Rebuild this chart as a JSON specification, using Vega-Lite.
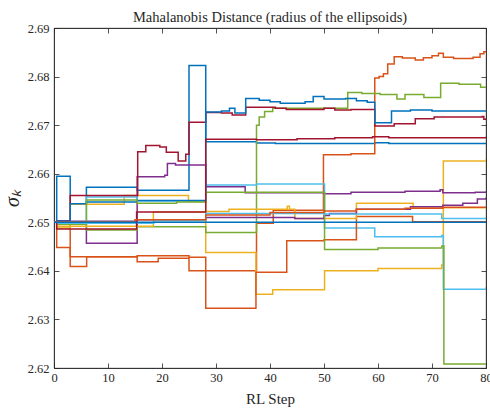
{
  "$schema": "https://vega.github.io/schema/vega-lite/v6.json",
  "width": 432,
  "height": 340,
  "autosize": {"type": "none"},
  "padding": {"left": 54, "top": 28, "right": 4, "bottom": 42},
  "title": {"text": "Mahalanobis Distance (radius of the ellipsoids)", "font": "Liberation Serif", "fontSize": 14.5, "fontWeight": "normal", "color": "#262626", "offset": -3},
  "datasets": {
    "d": [
      {"s":"B1","x":0,"y":2.65},{"s":"B1","x":0.5,"y":2.6595},{"s":"B1","x":3,"y":2.6538},{"s":"B1","x":6,"y":2.6572},{"s":"B1","x":15.4,"y":2.6566},{"s":"B1","x":25,"y":2.6823},{"s":"B1","x":28.1,"y":2.6666},{"s":"B1","x":37.5,"y":2.6663},{"s":"B1","x":41,"y":2.6662},{"s":"B1","x":59.4,"y":2.6664},{"s":"B1","x":62,"y":2.6662},{"s":"B1","x":80,"y":2.6662},
      {"s":"O1","x":0,"y":2.65},{"s":"O1","x":3,"y":2.6409},{"s":"O1","x":6.05,"y":2.6429},{"s":"O1","x":15.4,"y":2.6419},{"s":"O1","x":19.3,"y":2.6426},{"s":"O1","x":25,"y":2.64},{"s":"O1","x":37.5,"y":2.6498},{"s":"O1","x":40.6,"y":2.6525},{"s":"O1","x":49.9,"y":2.6639},{"s":"O1","x":55,"y":2.6641},{"s":"O1","x":59.4,"y":2.6797},{"s":"O1","x":60.2,"y":2.68},{"s":"O1","x":61,"y":2.6806},{"s":"O1","x":61.8,"y":2.6826},{"s":"O1","x":63,"y":2.6841},{"s":"O1","x":64.5,"y":2.6838},{"s":"O1","x":66.9,"y":2.6834},{"s":"O1","x":68.4,"y":2.6839},{"s":"O1","x":70,"y":2.6843},{"s":"O1","x":71.2,"y":2.6848},{"s":"O1","x":72.1,"y":2.684},{"s":"O1","x":74,"y":2.6837},{"s":"O1","x":77.6,"y":2.684},{"s":"O1","x":78.9,"y":2.6847},{"s":"O1","x":79.6,"y":2.6851},{"s":"O1","x":80,"y":2.6851},
      {"s":"Y1","x":0,"y":2.65},{"s":"Y1","x":0.5,"y":2.6488},{"s":"Y1","x":3,"y":2.6537},{"s":"Y1","x":13,"y":2.6555},{"s":"Y1","x":24.9,"y":2.6543},{"s":"Y1","x":28.1,"y":2.6438},{"s":"Y1","x":37.4,"y":2.6352},{"s":"Y1","x":40.5,"y":2.6361},{"s":"Y1","x":50.1,"y":2.64},{"s":"Y1","x":60,"y":2.6405},{"s":"Y1","x":71.8,"y":2.6412},{"s":"Y1","x":72.1,"y":2.6626},{"s":"Y1","x":80,"y":2.663},
      {"s":"P1","x":0,"y":2.65},{"s":"P1","x":0.5,"y":2.6497},{"s":"P1","x":6,"y":2.6457},{"s":"P1","x":15.4,"y":2.6594},{"s":"P1","x":20.5,"y":2.6597},{"s":"P1","x":21,"y":2.6621},{"s":"P1","x":22.5,"y":2.6618},{"s":"P1","x":28.1,"y":2.6573},{"s":"P1","x":35.4,"y":2.6561},{"s":"P1","x":50,"y":2.6559},{"s":"P1","x":55,"y":2.6562},{"s":"P1","x":65,"y":2.6564},{"s":"P1","x":71.5,"y":2.6567},{"s":"P1","x":72,"y":2.6561},{"s":"P1","x":78,"y":2.6562},{"s":"P1","x":80,"y":2.6564},
      {"s":"G1","x":0,"y":2.65},{"s":"G1","x":0.5,"y":2.6496},{"s":"G1","x":6,"y":2.6484},{"s":"G1","x":15.4,"y":2.6491},{"s":"G1","x":28.1,"y":2.6479},{"s":"G1","x":37.5,"y":2.67},{"s":"G1","x":38,"y":2.6717},{"s":"G1","x":39,"y":2.6728},{"s":"G1","x":40.5,"y":2.6735},{"s":"G1","x":54.4,"y":2.6767},{"s":"G1","x":57,"y":2.6765},{"s":"G1","x":60.4,"y":2.6763},{"s":"G1","x":63.5,"y":2.6754},{"s":"G1","x":65,"y":2.6763},{"s":"G1","x":68.5,"y":2.6757},{"s":"G1","x":71.6,"y":2.6786},{"s":"G1","x":75,"y":2.6784},{"s":"G1","x":79,"y":2.6778},{"s":"G1","x":80,"y":2.6777},
      {"s":"LB1","x":0,"y":2.65},{"s":"LB1","x":0.5,"y":2.6499},{"s":"LB1","x":6,"y":2.6552},{"s":"LB1","x":15.4,"y":2.6544},{"s":"LB1","x":28.1,"y":2.6577},{"s":"LB1","x":37.5,"y":2.6579},{"s":"LB1","x":50.1,"y":2.6488},{"s":"LB1","x":59.4,"y":2.647},{"s":"LB1","x":71.8,"y":2.6473},{"s":"LB1","x":72.1,"y":2.6362},{"s":"LB1","x":80,"y":2.6366},
      {"s":"R1","x":0,"y":2.65},{"s":"R1","x":0.5,"y":2.6502},{"s":"R1","x":3,"y":2.6555},{"s":"R1","x":15.5,"y":2.6645},{"s":"R1","x":17,"y":2.6658},{"s":"R1","x":19.6,"y":2.6655},{"s":"R1","x":20.8,"y":2.6644},{"s":"R1","x":23,"y":2.6626},{"s":"R1","x":24.4,"y":2.664},{"s":"R1","x":25,"y":2.6706},{"s":"R1","x":28.1,"y":2.6726},{"s":"R1","x":31,"y":2.6725},{"s":"R1","x":33,"y":2.6721},{"s":"R1","x":35.5,"y":2.6737},{"s":"R1","x":41,"y":2.6735},{"s":"R1","x":43,"y":2.6732},{"s":"R1","x":50,"y":2.6735},{"s":"R1","x":52,"y":2.6731},{"s":"R1","x":55,"y":2.6732},{"s":"R1","x":59.4,"y":2.6698},{"s":"R1","x":63,"y":2.6703},{"s":"R1","x":66.9,"y":2.6713},{"s":"R1","x":70.4,"y":2.6717},{"s":"R1","x":79.3,"y":2.6718},{"s":"R1","x":79.6,"y":2.6712},{"s":"R1","x":80,"y":2.6714},
      {"s":"B2","x":0,"y":2.65},{"s":"B2","x":0.5,"y":2.6503},{"s":"B2","x":3,"y":2.6538},{"s":"B2","x":6,"y":2.6542},{"s":"B2","x":15.4,"y":2.6545},{"s":"B2","x":28.1,"y":2.6727},{"s":"B2","x":31,"y":2.6729},{"s":"B2","x":32.5,"y":2.6735},{"s":"B2","x":33.5,"y":2.6725},{"s":"B2","x":35.5,"y":2.6755},{"s":"B2","x":38,"y":2.6751},{"s":"B2","x":40,"y":2.6748},{"s":"B2","x":41.9,"y":2.6745},{"s":"B2","x":46.5,"y":2.6748},{"s":"B2","x":48,"y":2.6759},{"s":"B2","x":50,"y":2.6754},{"s":"B2","x":54,"y":2.6755},{"s":"B2","x":56,"y":2.675},{"s":"B2","x":58,"y":2.6747},{"s":"B2","x":59.4,"y":2.6705},{"s":"B2","x":62.5,"y":2.6729},{"s":"B2","x":66,"y":2.6731},{"s":"B2","x":70,"y":2.6729},{"s":"B2","x":80,"y":2.673},
      {"s":"O2","x":0,"y":2.65},{"s":"O2","x":0.5,"y":2.6448},{"s":"O2","x":3,"y":2.6429},{"s":"O2","x":15.4,"y":2.6431},{"s":"O2","x":25,"y":2.6428},{"s":"O2","x":28.1,"y":2.6323},{"s":"O2","x":37.4,"y":2.6397},{"s":"O2","x":43.1,"y":2.6462},{"s":"O2","x":50,"y":2.6464},{"s":"O2","x":56,"y":2.6512},{"s":"O2","x":66.4,"y":2.6501},{"s":"O2","x":80,"y":2.6501},
      {"s":"Y2","x":0,"y":2.65},{"s":"Y2","x":0.5,"y":2.6492},{"s":"Y2","x":18.4,"y":2.6521},{"s":"Y2","x":28.1,"y":2.6522},{"s":"Y2","x":32.4,"y":2.6527},{"s":"Y2","x":43,"y":2.6527},{"s":"Y2","x":43.2,"y":2.6533},{"s":"Y2","x":43.6,"y":2.6527},{"s":"Y2","x":44.6,"y":2.6508},{"s":"Y2","x":56,"y":2.6539},{"s":"Y2","x":66.5,"y":2.6529},{"s":"Y2","x":72,"y":2.653},{"s":"Y2","x":80,"y":2.6531},
      {"s":"P2","x":0,"y":2.65},{"s":"P2","x":0.5,"y":2.6502},{"s":"P2","x":15.4,"y":2.6505},{"s":"P2","x":28.1,"y":2.651},{"s":"P2","x":37.5,"y":2.651},{"s":"P2","x":44.6,"y":2.6508},{"s":"P2","x":50,"y":2.6514},{"s":"P2","x":51,"y":2.6518},{"s":"P2","x":56,"y":2.6527},{"s":"P2","x":66,"y":2.6532},{"s":"P2","x":72,"y":2.6535},{"s":"P2","x":75.7,"y":2.6539},{"s":"P2","x":78.4,"y":2.6548},{"s":"P2","x":80,"y":2.6551},
      {"s":"G2","x":0,"y":2.65},{"s":"G2","x":0.5,"y":2.65},{"s":"G2","x":6,"y":2.6546},{"s":"G2","x":15.4,"y":2.6539},{"s":"G2","x":22.7,"y":2.6542},{"s":"G2","x":28.1,"y":2.6562},{"s":"G2","x":50.1,"y":2.6444},{"s":"G2","x":60,"y":2.6447},{"s":"G2","x":71.8,"y":2.6451},{"s":"G2","x":72.2,"y":2.6208},{"s":"G2","x":80,"y":2.621},
      {"s":"LB2","x":0,"y":2.65},{"s":"LB2","x":0.5,"y":2.6498},{"s":"LB2","x":6,"y":2.6498},{"s":"LB2","x":18.5,"y":2.6503},{"s":"LB2","x":28.1,"y":2.6518},{"s":"LB2","x":50,"y":2.6517},{"s":"LB2","x":71.5,"y":2.6517},{"s":"LB2","x":71.8,"y":2.6508},{"s":"LB2","x":80,"y":2.651},
      {"s":"R2","x":0,"y":2.65},{"s":"R2","x":0.5,"y":2.6486},{"s":"R2","x":15.3,"y":2.6521},{"s":"R2","x":28.1,"y":2.6671},{"s":"R2","x":37.5,"y":2.667},{"s":"R2","x":45,"y":2.6672},{"s":"R2","x":52,"y":2.6674},{"s":"R2","x":59,"y":2.6676},{"s":"R2","x":62,"y":2.6674},{"s":"R2","x":80,"y":2.6676},
      {"s":"O4","x":0,"y":2.65},{"s":"O4","x":0.5,"y":2.6501},{"s":"O4","x":15,"y":2.6505},{"s":"O4","x":28.1,"y":2.6515},{"s":"O4","x":40,"y":2.652},{"s":"O4","x":50,"y":2.6523},{"s":"O4","x":56,"y":2.6527},{"s":"O4","x":65,"y":2.6529},{"s":"O4","x":72,"y":2.6531},{"s":"O4","x":80,"y":2.6532},
      {"s":"B3","x":0,"y":2.65},{"s":"B3","x":80,"y":2.65}
    ]
  },
  "data": {"name": "d"},
  "layer": [
    {
      "mark": {"type": "line", "interpolate": "step-after", "strokeWidth": 1.5, "clip": true},
      "encoding": {
        "x": {"field": "x", "type": "quantitative", "scale": {"domain": [0, 80], "nice": false},
              "axis": {"values": [0,10,20,30,40,50,60,70,80], "title": "RL Step", "titleFontSize": 15, "titlePadding": 8, "labelPadding": 8, "labelFlush": false}},
        "y": {"field": "y", "type": "quantitative", "scale": {"domain": [2.62, 2.69], "nice": false, "zero": false},
              "axis": {"values": [2.62,2.63,2.64,2.65,2.66,2.67,2.68,2.69], "format": ".2f", "title": "σₖ", "titleFontSize": 20, "titleFontStyle": "italic", "titlePadding": 5, "labelPadding": 10}},
        "color": {"field": "s", "type": "nominal", "legend": null,
                  "scale": {"domain": ["B1","O1","Y1","P1","G1","LB1","R1","B2","O2","Y2","P2","G2","LB2","R2","O4","B3"],
                            "range": ["#0072BD","#D95319","#EDB120","#7E2F8E","#77AC30","#4DBEEE","#A2142F","#0072BD","#D95319","#EDB120","#7E2F8E","#77AC30","#4DBEEE","#A2142F","#D95319","#0072BD"]}}
      }
    },
    {
      "mark": {"type": "line", "opacity": 0},
      "encoding": {
        "x": {"field": "x", "type": "quantitative", "scale": {"domain": [0, 80], "nice": false},
              "axis": {"orient": "top", "values": [0,10,20,30,40,50,60,70,80], "labels": false, "title": null}},
        "y": {"field": "y", "type": "quantitative", "scale": {"domain": [2.62, 2.69], "nice": false, "zero": false},
              "axis": {"orient": "right", "values": [2.62,2.63,2.64,2.65,2.66,2.67,2.68,2.69], "labels": false, "title": null}},
        "detail": {"field": "s"}
      }
    }
  ],
  "resolve": {"axis": {"x": "independent", "y": "independent"}},
  "config": {
    "font": "Liberation Serif",
    "view": {"stroke": "#262626", "strokeWidth": 0.8},
    "axis": {"grid": false, "domainColor": "#262626", "domainWidth": 0.8, "tickColor": "#262626", "tickWidth": 0.8, "tickSize": -5,
             "labelFont": "Liberation Serif", "labelFontSize": 12.5, "labelColor": "#262626",
             "titleFont": "Liberation Serif", "titleFontWeight": "normal", "titleColor": "#262626"}
  }
}
